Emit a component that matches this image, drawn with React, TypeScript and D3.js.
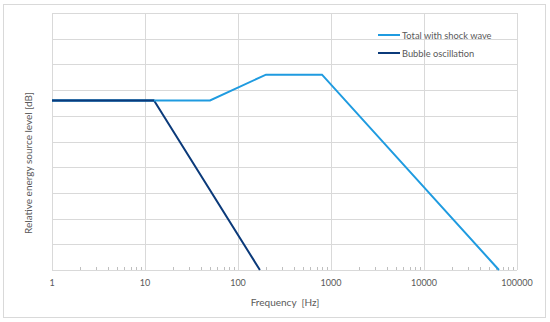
import React from "react";
import * as d3 from "d3";

const totalFreq = [1, 50, 200, 800, 64000];
const totalLevel = [66, 66, 76, 76, 0];
const bubbleFreq = [1, 12.5, 172];
const bubbleLevel = [66, 66, 0];
const xTicks = [1, 10, 100, 1000, 10000, 100000];
const yGrid = [0, 10, 20, 30, 40, 50, 60, 70, 80, 90, 100];
const seriesNames = ["Total with shock wave", "Bubble oscillation"];
const seriesColors = ["#1f9be0", "#0b3a7a"];

export default function App() {
  const W = 550, H = 322;
  const left = 52, right = 517, top = 13, bottom = 270;
  const x = d3.scaleLog().domain([1, 100000]).range([left, right]);
  const y = d3.scaleLinear().domain([0, 100]).range([bottom, top]);
  const line = d3.line<[number, number]>().x(d => x(d[0])).y(d => y(d[1]));
  const total = totalFreq.map((f, i) => [f, totalLevel[i]] as [number, number]);
  const bubble = bubbleFreq.map((f, i) => [f, bubbleLevel[i]] as [number, number]);
  const minor: number[] = [];
  for (let d = 0; d < 5; d++) for (let k = 2; k <= 9; k++) minor.push(k * Math.pow(10, d));
  const font = "Lato, 'Open Sans', sans-serif";
  const grey = "#595959";
  return (
    <svg width={W} height={H} style={{ position: "absolute", left: 0, top: 0 }}>
      <rect x={0} y={0} width={W} height={H} fill="#fff" />
      <rect x={3.5} y={4.5} width={542} height={313} fill="#fff" stroke="#d9d9d9" />
      {yGrid.map(v => (
        <line key={"h" + v} x1={left} x2={right} y1={Math.round(y(v)) + 0.5} y2={Math.round(y(v)) + 0.5} stroke="#d9d9d9" />
      ))}
      {xTicks.map(v => (
        <line key={"v" + v} x1={Math.round(x(v)) + 0.5} x2={Math.round(x(v)) + 0.5} y1={top} y2={bottom} stroke="#d9d9d9" />
      ))}
      {minor.map(v => (
        <line key={"m" + v} x1={Math.round(x(v)) + 0.5} x2={Math.round(x(v)) + 0.5} y1={bottom - 3} y2={bottom} stroke="#bfbfbf" />
      ))}
      <path d={line(bubble) || ""} fill="none" stroke={seriesColors[1]} strokeWidth={2} />
      <path d={line(total) || ""} fill="none" stroke={seriesColors[0]} strokeWidth={2} />
      <path d={line(bubble.slice(0, 2)) || ""} fill="none" stroke={seriesColors[1]} strokeWidth={2} />
      {xTicks.map(v => (
        <text key={"t" + v} x={x(v)} y={286} textAnchor="middle" fontSize={9} fill={grey} fontFamily={font}>{String(v)}</text>
      ))}
      <text x={285} y={306} textAnchor="middle" fontSize={10} fill={grey} fontFamily={font} style={{ whiteSpace: "pre" }}>{"Frequency  [Hz]"}</text>
      <text transform="translate(32,163) rotate(-90)" textAnchor="middle" fontSize={10} fill={grey} fontFamily={font}>Relative energy source level [dB]</text>
      {seriesNames.map((n, i) => (
        <g key={n}>
          <line x1={378} x2={400} y1={35 + i * 18} y2={35 + i * 18} stroke={seriesColors[i]} strokeWidth={2} />
          <text x={402} y={38.5 + i * 18} fontSize={9.3} fill={grey} fontFamily={font}>{n}</text>
        </g>
      ))}
    </svg>
  );
}
